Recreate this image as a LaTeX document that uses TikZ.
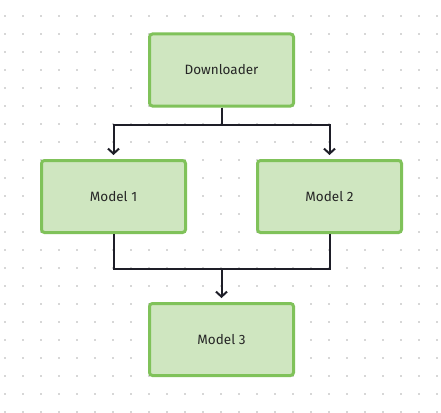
\documentclass[tikz,border=0pt]{standalone}
\usepackage{fontspec}
\setmainfont{Fira Sans}
\usetikzlibrary{arrows.meta,calc}
\definecolor{boxfill}{RGB}{207,230,192}
\definecolor{boxedge}{RGB}{128,194,90}
\definecolor{wire}{RGB}{30,30,40}
\definecolor{griddot}{RGB}{215,215,215}

\begin{document}
\begin{tikzpicture}[x=1pt, y=-1pt,
    block/.style={draw=boxedge, line width=3pt, rounded corners=3pt, fill=boxfill,
                  minimum width=144pt, minimum height=72pt, font=\fontsize{13.5}{16}\selectfont,
                  text=black!85},
    flow/.style={-{Straight Barb[length=5pt,width=11pt,line width=2pt]}, line width=2pt,
                 draw=wire, shorten >=4pt}
]
    % white page with dotted grid
    \useasboundingbox[fill=white] (0,0) rectangle (441,412);
    \foreach \gx in {0,...,24}
        \foreach \gy in {0,...,22}
            \fill[griddot] ({5+18*\gx-0.8},{16+18*\gy-0.8}) rectangle ++(1.6,1.6);

    % boxes
    \node[block] (downloader) at (221.5,70)  {Downloader};
    \node[block] (model1)     at (113.5,196.5) {Model 1};
    \node[block] (model2)     at (329.5,196.5) {Model 2};
    \node[block] (model3)     at (221.5,339.5) {Model 3};

    % fan out
    \draw[flow] (downloader.south) -- ++(0,17.5) -| (model1.north);
    \draw[flow] (downloader.south) -- ++(0,17.5) -| (model2.north);

    % merge
    \draw[line width=2pt, draw=wire] (model1.south) |- (model2.south |- 0,269) -- (model2.south);
    \draw[flow] ($(model1.south)!0.5!(model2.south)$) ++(0,35.5) -- (model3.north);
\end{tikzpicture}
\end{document}
